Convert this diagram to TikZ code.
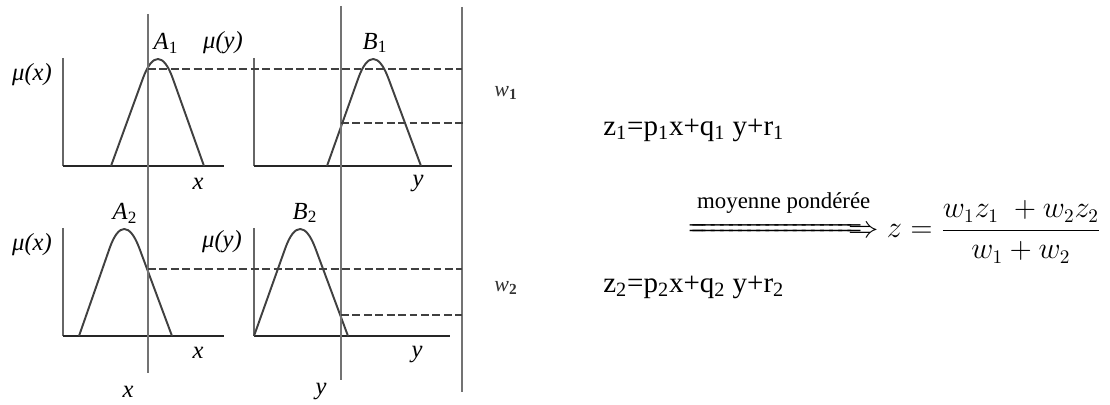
\documentclass[tikz,border=0pt]{standalone}
\usepackage{amsmath}
\usepackage{mathtools}
\usepackage{fontspec}
\setmainfont{Liberation Serif}
\usetikzlibrary{positioning}
\newcommand{\sub}[1]{\textsubscript{#1}}
\newcommand{\lbl}[2]{{\itshape #1}\sub{\upshape #2}}
\newcommand{\avgtext}{\fontsize{13}{15}\selectfont moyenne pondérée}

\begin{document}
\begin{tikzpicture}[x=0.02cm, y=-0.02cm,
    xaxis/.style={black!85, line width=1.4pt},
    yaxis/.style={black!60, line width=1.1pt},
    guide/.style={black!55, line width=0.8pt},
    cut/.style={black!75, dash pattern=on 4.5pt off 2pt, line width=0.75pt},
    bump/.style={black!75, line width=1.1pt, line join=round},
    lab/.style={font=\fontsize{14}{16}\selectfont\itshape, inner sep=0pt},
    wlab/.style={font=\fontsize{12.5}{14}\selectfont\itshape, inner sep=0pt, text=black!80},
    txt/.style={font=\fontsize{16.5}{19}\selectfont, inner sep=0pt, anchor=west},
    eqn/.style={font=\fontsize{16}{19}\selectfont, inner sep=0pt, anchor=base west}]
    \useasboundingbox (0,0) rectangle (1110,405);
    % axes of the four membership panels
    \foreach \ox/\oy/\len in {63/166/161, 254/166/198, 63/336/161, 254/336/196}
    {
        \draw[yaxis] (\ox,\oy-108) -- (\ox,\oy);
        \draw[xaxis] (\ox,\oy) -- (\ox+\len,\oy);
    }
    % membership functions A1, B1, A2, B2
    \foreach \a/\p/\b/\t/\u in {111/158/204/59/166, 327/373/421/59/166,
                                79/124/172/229/336, 254/300/348/229/336}
    {
        \draw[bump] (\a,\u) -- ({\p-0.32*(\p-\a)},{\t+0.18*(\u-\t)})
            .. controls ({\p-0.12*(\p-\a)},{\t-0.06*(\u-\t)}) and ({\p+0.12*(\b-\p)},{\t-0.06*(\u-\t)})
            .. ({\p+0.32*(\b-\p)},{\t+0.18*(\u-\t)}) -- (\b,\u);
    }
    % inputs and output bar
    \draw[guide] (148,14) -- (148,373);
    \draw[guide] (341,6) -- (341,380);
    \draw[guide] (462,7) -- (462,392);
    % firing levels
    \draw[cut] (148,69) -- (462,69);
    \draw[cut] (341,123) -- (464,123);
    \draw[cut] (148,269) -- (462,269);
    \draw[cut] (341,315) -- (462,315);
    % labels
    \node[lab] (muxa) at (32,75) {μ(x)};
    \node[lab] (muya) at (223,43) {μ(y)};
    \node[lab] (muxb) at (32,245) {μ(x)};
    \node[lab] (muyb) at (222,242) {μ(y)};
    \node[lab] (A1) at (166,43) {\lbl{A}{1}};
    \node[lab] (B1) at (375,43) {\lbl{B}{1}};
    \node[lab] (A2) at (125,213) {\lbl{A}{2}};
    \node[lab] (B2) at (305,213) {\lbl{B}{2}};
    \node[lab] (xa) at (198,184) {x};
    \node[lab] (ya) at (418,184) {y};
    \node[lab] (xb) at (198,353) {x};
    \node[lab] (yb) at (417,355) {y};
    \node[lab] (xin) at (128,392) {x};
    \node[lab] (yin) at (321,392) {y};
    \node[wlab] (w1) at (506,93) {w\sub{\upshape\bfseries 1}};
    \node[wlab] (w2) at (506,288) {w\sub{\upshape\bfseries 2}};
    % consequents and weighted average
    \node[txt] (z1) at (603,130) {z\sub{1}=p\sub{1}x+q\sub{1} y+r\sub{1}};
    \node[txt] (z2) at (603,287) {z\sub{2}=p\sub{2}x+q\sub{2} y+r\sub{2}};
    \node[eqn] (arr) at (688,238) {$\xRightarrow{\hphantom{\text{\avgtext}}}$};
    \node[eqn] (zfrac) at ([xshift=4pt]arr.base east) {$z=\dfrac{w_1z_1\;+w_2z_2}{w_1+w_2}$};
    \node[inner sep=0pt, above=1pt of arr] (avg) {\avgtext};
\end{tikzpicture}
\end{document}
